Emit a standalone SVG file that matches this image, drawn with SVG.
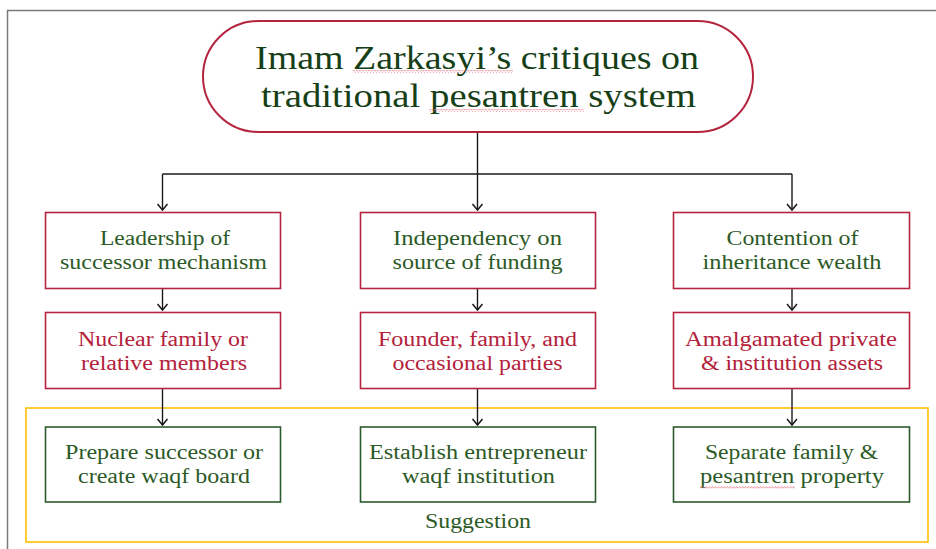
<svg xmlns="http://www.w3.org/2000/svg" width="936" height="549" viewBox="0 0 936 549">
  <defs>
    <style>
      .frame { stroke: #7a7a7a; stroke-width: 1.5; fill: none; }
      .pill { fill: #ffffff; stroke: #b5243e; stroke-width: 2; }
      .issue { fill: #ffffff; stroke: #b5243e; stroke-width: 1.6; }
      .answer { fill: #ffffff; stroke: #2d5a2d; stroke-width: 1.6; }
      .band { fill: none; stroke: #ffc000; stroke-width: 1.6; }
      .conn { fill: none; stroke: #1a1a1a; stroke-width: 1.4; }
      text { font-family: "Liberation Serif", "Times New Roman", serif; text-anchor: middle; }
      .title { font-size: 33px; fill: #173f17; }
      .green { font-size: 20px; fill: #2c5a27; }
      .red { font-size: 20px; fill: #b3213b; }
      .squiggle { fill: url(#wave); }
    </style>
    <!-- open V arrowhead, tip at the end of the line -->
    <marker id="arrow" viewBox="-8 -7 10 14" refX="0" refY="0" markerWidth="10" markerHeight="14" markerUnits="userSpaceOnUse" orient="auto">
      <path d="M-6,-5 L0,0 L-6,5" fill="none" stroke="#1a1a1a" stroke-width="1.5"/>
    </marker>
    <pattern id="wave" width="3" height="3" patternUnits="userSpaceOnUse">
      <polyline points="0,2.5 1.5,0.5 3,2.5" fill="none" stroke="#e8707e" stroke-width="0.7"/>
    </pattern>
  </defs>

  <rect width="936" height="549" fill="#ffffff"/>

  <!-- page frame -->
  <path class="frame" d="M7.5,549 V10.5 H936"/>

  <!-- suggestion band -->
  <g id="suggestion-band">
    <rect class="band" x="26" y="408" width="902" height="134"/>
    <text class="green" x="478" y="528" textLength="106" lengthAdjust="spacingAndGlyphs">Suggestion</text>
  </g>

  <!-- connectors -->
  <g id="connectors">
    <path class="conn" d="M477.5,132 V210" marker-end="url(#arrow)"/>
    <path class="conn" d="M162.5,174 H792"/>
    <path class="conn" d="M162.5,174 V210" marker-end="url(#arrow)"/>
    <path class="conn" d="M792,174 V210" marker-end="url(#arrow)"/>

    <path class="conn" d="M162.5,289 V310" marker-end="url(#arrow)"/>
    <path class="conn" d="M477.5,289 V310" marker-end="url(#arrow)"/>
    <path class="conn" d="M792,289 V310" marker-end="url(#arrow)"/>

    <path class="conn" d="M162.5,389 V425" marker-end="url(#arrow)"/>
    <path class="conn" d="M477.5,389 V425" marker-end="url(#arrow)"/>
    <path class="conn" d="M792,389 V425" marker-end="url(#arrow)"/>
  </g>

  <!-- title -->
  <g id="title">
    <rect class="pill" x="203" y="21" width="550" height="111" rx="55.5" ry="55.5"/>
    <text class="title" x="477" y="69" textLength="444" lengthAdjust="spacingAndGlyphs">Imam Zarkasyi’s critiques on</text>
    <text class="title" x="478.5" y="107" textLength="435" lengthAdjust="spacingAndGlyphs">traditional pesantren system</text>
    <rect class="squiggle" x="353" y="70" width="160" height="3"/>
    <rect class="squiggle" x="429" y="109" width="155" height="3"/>
  </g>

  <!-- row 1: critiques -->
  <g id="leadership">
    <rect class="issue" x="45.5" y="212.5" width="235" height="76"/>
    <text class="green" x="165" y="245" textLength="130" lengthAdjust="spacingAndGlyphs">Leadership of</text>
    <text class="green" x="163.5" y="269" textLength="207" lengthAdjust="spacingAndGlyphs">successor mechanism</text>
  </g>
  <g id="funding">
    <rect class="issue" x="360.5" y="212.5" width="235" height="76"/>
    <text class="green" x="477.5" y="245" textLength="169" lengthAdjust="spacingAndGlyphs">Independency on</text>
    <text class="green" x="477.5" y="269" textLength="170" lengthAdjust="spacingAndGlyphs">source of funding</text>
  </g>
  <g id="inheritance">
    <rect class="issue" x="673.5" y="212.5" width="236" height="76"/>
    <text class="green" x="792.5" y="245" textLength="132" lengthAdjust="spacingAndGlyphs">Contention of</text>
    <text class="green" x="792" y="269" textLength="179" lengthAdjust="spacingAndGlyphs">inheritance wealth</text>
  </g>

  <!-- row 2: current conditions -->
  <g id="nuclear-family">
    <rect class="issue" x="45.5" y="312.5" width="235" height="76"/>
    <text class="red" x="163" y="346" textLength="170" lengthAdjust="spacingAndGlyphs">Nuclear family or</text>
    <text class="red" x="164" y="370" textLength="166" lengthAdjust="spacingAndGlyphs">relative members</text>
  </g>
  <g id="founder">
    <rect class="issue" x="360.5" y="312.5" width="235" height="76"/>
    <text class="red" x="477.5" y="346" textLength="199" lengthAdjust="spacingAndGlyphs">Founder, family, and</text>
    <text class="red" x="477.5" y="370" textLength="170" lengthAdjust="spacingAndGlyphs">occasional parties</text>
  </g>
  <g id="amalgamated">
    <rect class="issue" x="673.5" y="312.5" width="236" height="76"/>
    <text class="red" x="791" y="346" textLength="212" lengthAdjust="spacingAndGlyphs">Amalgamated private</text>
    <text class="red" x="792" y="370" textLength="182" lengthAdjust="spacingAndGlyphs">&amp; institution assets</text>
  </g>

  <!-- row 3: suggestions -->
  <g id="prepare-successor">
    <rect class="answer" x="45.5" y="427" width="235" height="75"/>
    <text class="green" x="164" y="459" textLength="198" lengthAdjust="spacingAndGlyphs">Prepare successor or</text>
    <text class="green" x="164" y="483" textLength="172" lengthAdjust="spacingAndGlyphs">create waqf board</text>
  </g>
  <g id="entrepreneur-waqf">
    <rect class="answer" x="360.5" y="427" width="235" height="75"/>
    <text class="green" x="478" y="459" textLength="218" lengthAdjust="spacingAndGlyphs">Establish entrepreneur</text>
    <text class="green" x="478.5" y="483" textLength="153" lengthAdjust="spacingAndGlyphs">waqf institution</text>
  </g>
  <g id="separate-property">
    <rect class="answer" x="673.5" y="427" width="236" height="75"/>
    <text class="green" x="791.5" y="459" textLength="173" lengthAdjust="spacingAndGlyphs">Separate family &amp;</text>
    <text class="green" x="792" y="483" textLength="184" lengthAdjust="spacingAndGlyphs">pesantren property</text>
    <rect class="squiggle" x="700" y="486" width="95" height="3"/>
  </g>
</svg>
